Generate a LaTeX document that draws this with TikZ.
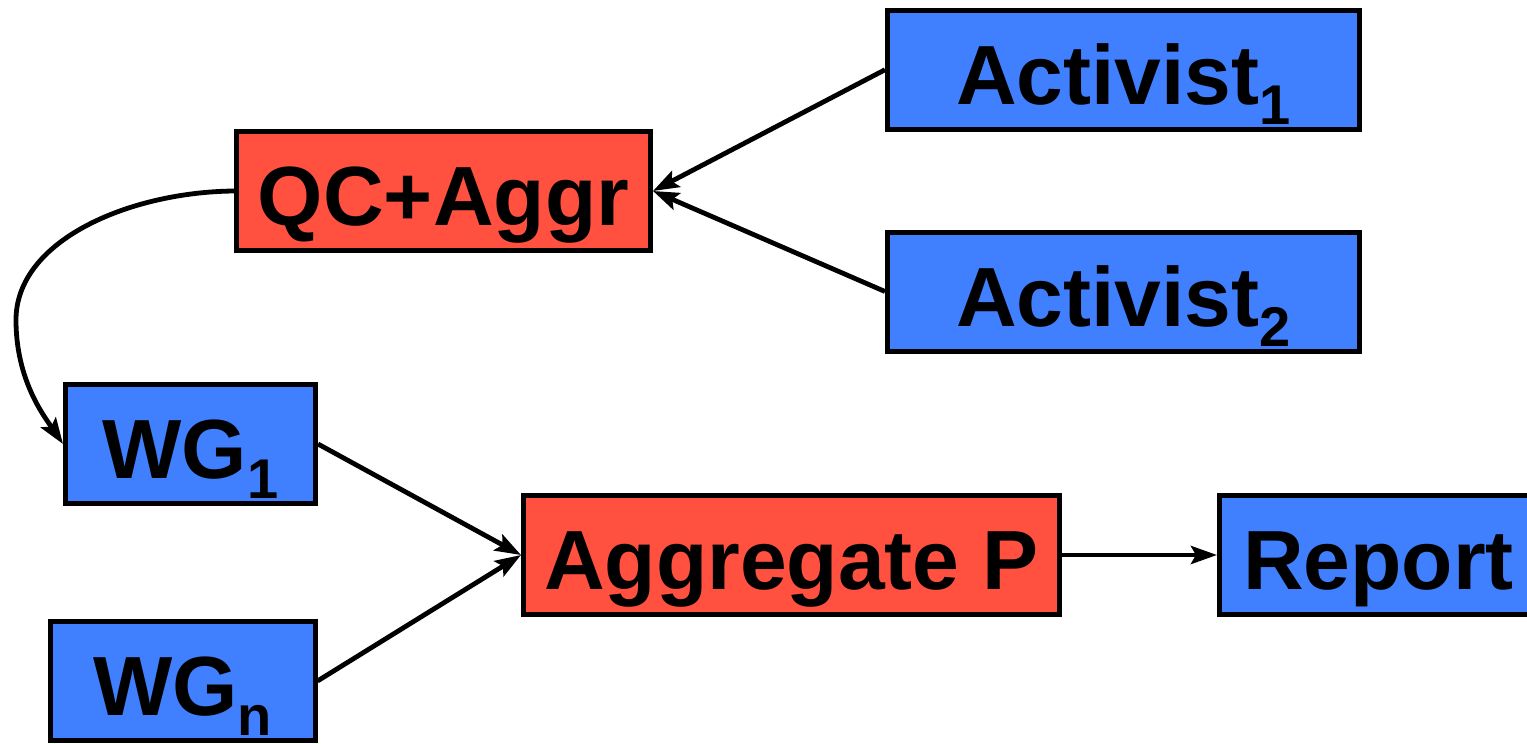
\documentclass[tikz,border=0pt]{standalone}
\usepackage{fontspec}
\setmainfont{Liberation Sans}
\usetikzlibrary{arrows.meta}
\definecolor{boxblue}{RGB}{64,128,255}
\definecolor{boxred}{RGB}{255,80,64}
\newcommand{\subtxt}[1]{\raisebox{-10pt}{\fontsize{28}{28}\selectfont #1}}
\tikzset{
  box/.style={draw=black, line width=2.5pt, inner sep=0pt, text height=47pt, text depth=12.5pt,
    align=center, font=\fontsize{42}{42}\selectfont\bfseries},
  bluebox/.style={box, fill=boxblue},
  redbox/.style={box, fill=boxred},
  conn/.style={line width=2.4pt, -{Stealth[length=13pt,width=9pt,inset=2.5pt]}}
}
\begin{document}
\begin{tikzpicture}[x=0.5pt,y=-0.5pt]
\useasboundingbox[fill=white] (0,0) rectangle (1527,744);
\begin{scope}
\clip (0,0) rectangle (1527,744);
\node[bluebox, minimum width=236pt] (a1) at (1123.5,69.75) {Activist\subtxt{1}};
\node[bluebox, minimum width=236pt] (a2) at (1123.5,291.5) {Activist\subtxt{2}};
\node[redbox, minimum width=207pt] (qc) at (443.5,191) {QC+Aggr};
\node[bluebox, minimum width=125pt] (wg1) at (190.5,444) {WG\subtxt{1}};
\node[bluebox, minimum width=132.5pt] (wgn) at (182.5,681) {WG\subtxt{n}};
\node[redbox, minimum width=268pt] (agg) at (791.5,555) {Aggregate P};
\node[bluebox, minimum width=159pt] (rep) at (1378.5,555) {Report};
\draw[conn] (a1.west) -- (qc.east);
\draw[conn] (a2.west) -- (qc.east);
\draw[conn] (wg1.east) -- (agg.west);
\draw[conn] (wgn.east) -- (agg.west);
\draw[conn] (agg.east) -- (rep.west);
\draw[conn] (qc.west) .. controls (130,192) and (16,240) .. (16,320)
  .. controls (16,380) and (44,416) .. (wg1.west);
\end{scope}
\end{tikzpicture}
\end{document}
